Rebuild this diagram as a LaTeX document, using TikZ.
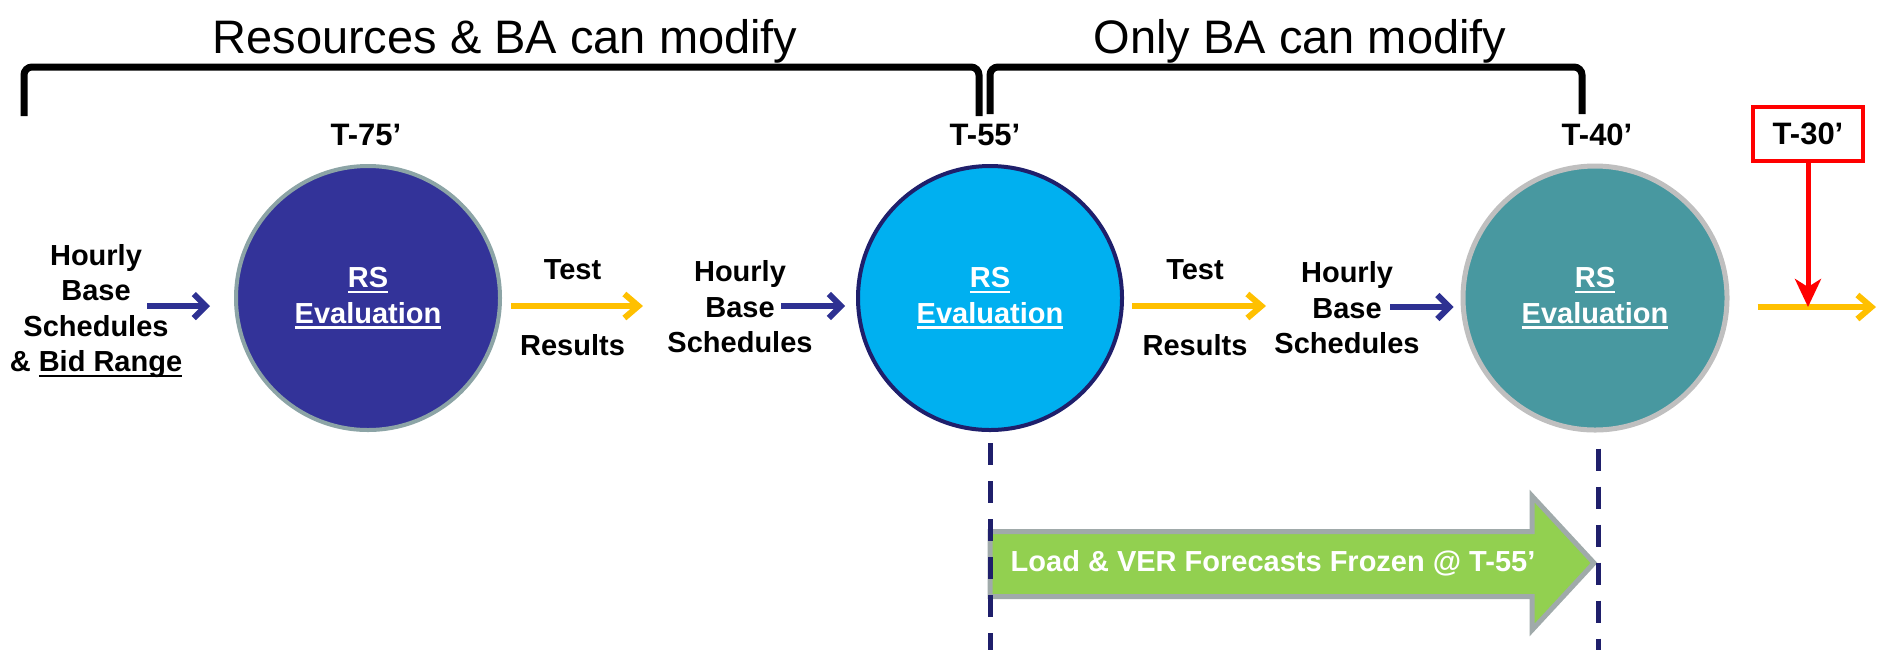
\documentclass[tikz,border=0pt]{standalone}
\usepackage{fontspec}
\setmainfont{Liberation Sans}
\usetikzlibrary{arrows.meta}

\definecolor{rsnavy}{RGB}{51,51,153}
\definecolor{rssky}{RGB}{0,176,240}
\definecolor{rsteal}{RGB}{72,152,160}
\definecolor{rimgray}{RGB}{140,164,166}
\definecolor{rimnavy}{RGB}{31,31,107}
\definecolor{rimlight}{RGB}{191,191,191}
\definecolor{feedblue}{RGB}{46,49,146}
\definecolor{testgold}{RGB}{255,192,0}
\definecolor{frozgreen}{RGB}{146,208,80}
\definecolor{frozrim}{RGB}{160,170,170}

\newcommand{\undl}[1]{\leavevmode\setbox0=\hbox{#1}\rlap{\rule[-2.6pt]{\wd0}{1.1pt}}\box0}

\tikzset{
  bracket/.style={line width=3.5pt, rounded corners=4pt},
  heading/.style={font=\fontsize{23.5pt}{28pt}\selectfont, anchor=base},
  timelbl/.style={font=\fontsize{15.5pt}{18pt}\selectfont\bfseries, inner sep=0pt},
  lbl/.style={font=\fontsize{14.5pt}{17.8pt}\selectfont\bfseries, align=center, inner sep=0pt, text=black},
  rsnode/.style={circle, minimum size=132pt, line width=2pt, text=white,
    font=\fontsize{14.5pt}{17.8pt}\selectfont\bfseries, align=center},
  feed/.style={feedblue, line width=3pt, -{Straight Barb[length=6pt,width=12pt]}},
  result/.style={testgold, line width=3pt, -{Straight Barb[length=7pt,width=12pt]}},
  alarm/.style={red, line width=2.5pt, -{Stealth[length=14pt,width=13pt,inset=4pt]}},
  guide/.style={rimnavy, line width=2.5pt, dash pattern=on 11pt off 8pt},
}

\begin{document}
\begin{tikzpicture}[x=0.5pt,y=-0.5pt]
\useasboundingbox (0,0) rectangle (1877,650);

% who can modify
\node[heading] (hdall) at (505,53) {Resources \& BA can modify};
\node[heading] (hdba) at (1300,53) {Only BA can modify};
\draw[bracket] (24,116) -- (24,67) -- (979,67) -- (979,116);
\draw[bracket] (990,114) -- (990,67) -- (1582,67) -- (1582,114);

% time marks
\node[timelbl] (t75) at (366,135) {T-75’};
\node[timelbl] (t55) at (985,135) {T-55’};
\node[timelbl] (t40) at (1597,135) {T-40’};
\node[timelbl, draw=red, line width=2pt, minimum width=55pt, minimum height=27pt] (t30) at (1808,134) {T-30’};

% evaluations
\node[rsnode, fill=rsnavy, draw=rimgray] (rs75) at (368,298) {\undl{RS}\\\undl{Evaluation}};
\node[rsnode, fill=rssky, draw=rimnavy] (rs55) at (990,298) {\undl{RS}\\\undl{Evaluation}};
\node[rsnode, fill=rsteal, draw=rimlight, line width=2.5pt] (rs40) at (1595,298) {\undl{RS}\\\undl{Evaluation}};

% inputs
\node[lbl] (in75) at (96,311) {Hourly\\Base\\Schedules\\\& \undl{Bid Range}};
\node[lbl] (in55) at (740,307) {Hourly\\Base\\Schedules};
\node[lbl] (in40) at (1347,308) {Hourly\\Base\\Schedules};

\coordinate (f75) at (147,306);
\coordinate (f55) at (781,306);
\coordinate (f40) at (1390,307);
\draw[feed, shorten >=12pt] (f75) -- (f75 -| rs75.west);
\draw[feed, shorten >=5.5pt] (f55) -- (f55 -| rs55.west);
\draw[feed, shorten >=3.5pt] (f40) -- (f40 -| rs40.west);

% test results
\coordinate (r75) at (643,306);
\coordinate (r55) at (1266,306);
\coordinate (r40) at (1876,307);
\draw[result, shorten <=4.5pt] (rs75.east |- r75) -- (r75)
  node[midway, above=11.5pt, lbl] (test75) {Test}
  node[midway, below=12.5pt, lbl] (res75) {Results};
\draw[result, shorten <=4pt] (rs55.east |- r55) -- (r55)
  node[midway, above=11.5pt, lbl] (test55) {Test}
  node[midway, below=12.5pt, lbl] (res55) {Results};
\draw[result, shorten <=14pt] (rs40.east |- r40) -- (r40);
\draw[alarm] (t30.south) -- (t30.south |- r40);

% frozen forecasts
\draw[frozrim, fill=frozgreen, line width=2.5pt] (990,531.5) -- (1532,531.5) -- (1532,496)
  -- (1594,563) -- (1532,630) -- (1532,596.5) -- (990,596.5) -- cycle;
\node[lbl, text=white] (frozen) at (1273,563) {Load \& VER Forecasts Frozen @ T-55’};

\coordinate (floor) at (0,650);
\draw[guide] ([yshift=-5.5pt]rs55.south) -- (rs55.south |- floor);
\draw[guide] ([shift={(1.5pt,-8pt)}]rs40.south) -- ([xshift=1.5pt]rs40.south |- floor);

\end{tikzpicture}
\end{document}
